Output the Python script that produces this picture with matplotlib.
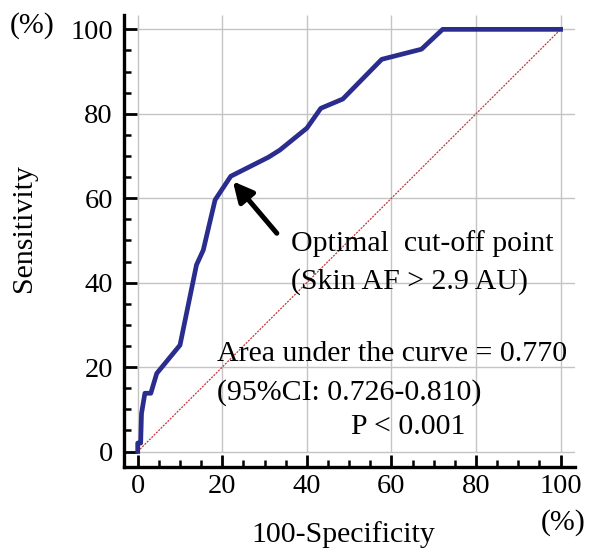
import matplotlib
matplotlib.use("Agg")
import matplotlib.pyplot as plt
from matplotlib.ticker import MultipleLocator

plt.rcParams['font.family'] = ['Liberation Serif', 'DejaVu Serif']

# ROC curve data (100-Specificity %, Sensitivity %)
fpr = [0, 0, 0.7, 0.9, 1.7, 3.1, 4.5, 10.0, 13.9, 15.5, 18.3, 22.0, 30.9, 33.6,
       40.0, 43.3, 48.5, 57.7, 67.1, 72.1, 100]
tpr = [0, 2, 2, 9, 13.8, 13.8, 18.5, 25.2, 44.2, 47.7, 59.6, 65.2, 69.7, 71.4,
       76.6, 81.3, 83.5, 92.9, 95.3, 100, 100]
ref_line = [0, 100]
cutoff_point = (22.0, 65.2)
tick_values = [0, 20, 40, 60, 80, 100]

fig = plt.figure(figsize=(5.92, 5.59), dpi=100)
ax = fig.add_axes([124 / 592, 92 / 559, (575 - 124) / 592, (544 - 92) / 559])

xmin, xmax = -3.24, 103.4
ymin, ymax = -3.67, 103.4
ax.set_xlim(xmin, xmax)
ax.set_ylim(ymin, ymax)

# grid lines (starting at 0)
grid_c = '#c4c4c4'
ax.hlines(tick_values, 0, xmax, colors=grid_c, lw=1.0, zorder=1)
ax.vlines(tick_values, 0, ymax, colors=grid_c, lw=1.0, zorder=1)

# reference diagonal
ax.plot(ref_line, ref_line, color='#c0393b', lw=0.9, ls=(0, (1.6, 1.0)), zorder=2)
# ROC curve
ax.plot(fpr, tpr, color='#2b2d8e', lw=3.4, solid_joinstyle='round', zorder=3)

# arrow to optimal cut-off
ax.annotate('', xy=(cutoff_point[0] + 0.5, cutoff_point[1] - 1.2), xytext=(32.9, 51.7),
            arrowprops=dict(arrowstyle='-|>', lw=3.6, color='black', mutation_scale=30,
                            shrinkA=0, shrinkB=0), zorder=4)

fs = 21.5
ax.text(36.3, 47.5, 'Optimal  cut-off point', fontsize=fs, ha='left', va='baseline')
ax.text(36.3, 38.5, '(Skin AF > 2.9 AU)', fontsize=fs, ha='left', va='baseline')
ax.text(18.8, 21.4, 'Area under the curve = 0.770', fontsize=fs, ha='left', va='baseline')
ax.text(18.8, 12.2, '(95%CI: 0.726-0.810)', fontsize=fs, ha='left', va='baseline')
ax.text(50.4, 4.1, 'P < 0.001', fontsize=fs, ha='left', va='baseline')

# spines & ticks
for s in ['top', 'right']:
    ax.spines[s].set_visible(False)
for s in ['left', 'bottom']:
    ax.spines[s].set_linewidth(2.4)
    ax.spines[s].set_color('black')

ax.set_xticks(tick_values)
ax.set_yticks(tick_values)
ax.xaxis.set_minor_locator(MultipleLocator(5))
ax.yaxis.set_minor_locator(MultipleLocator(5))
ax.tick_params(which='major', direction='in', length=9, width=2.0, labelsize=20.5, color='black')
ax.tick_params(which='minor', direction='in', length=5, width=1.8, color='black')
ax.tick_params(axis='y', which='major', pad=8)
ax.tick_params(axis='x', which='major', pad=5)

fig.text(24 / 592, (559 - 228.5) / 559, 'Sensitivity', rotation=90, fontsize=fs,
         ha='center', va='center')
fig.text(343 / 592, (559 - 542) / 559, '100-Specificity', fontsize=fs,
         ha='center', va='baseline')
fig.text(32 / 592, (559 - 26) / 559, '(%)', fontsize=fs, ha='center', va='center')
fig.text(563 / 592, (559 - 523) / 559, '(%)', fontsize=fs, ha='center', va='center')

fig.savefig('out.png', dpi=100)
